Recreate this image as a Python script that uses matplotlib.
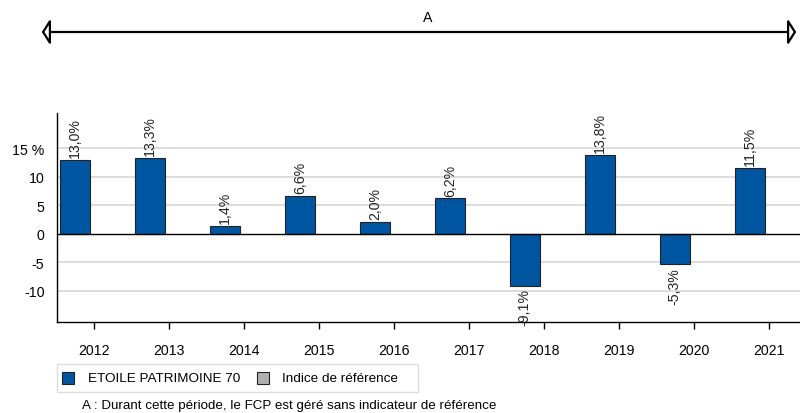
import matplotlib
matplotlib.use("Agg")
import matplotlib.pyplot as plt
from matplotlib.patches import FancyArrowPatch, Rectangle
import numpy as np

plt.rcParams['font.family'] = ['Liberation Sans', 'DejaVu Sans']

years = ["2012", "2013", "2014", "2015", "2016", "2017", "2018", "2019", "2020", "2021"]
fund = [13.0, 13.3, 1.4, 6.6, 2.0, 6.2, -9.1, 13.8, -5.3, 11.5]
fund_labels = ["13,0%", "13,3%", "1,4%", "6,6%", "2,0%", "6,2%", "-9,1%", "13,8%", "-5,3%", "11,5%"]
yticks = [-10, -5, 0, 5, 10, 15]
yticklabels = ["-10", "-5", "0", "5", "10", "15 %"]
series_names = ["ETOILE PATRIMOINE 70", "Indice de référence"]
annot_text = "A : Durant cette période, le FCP est géré sans indicateur de référence"

blue = "#0055A0"
grey = "#B0B0B0"
fs = 10.2
lfs = 9.7

fig = plt.figure(figsize=(8, 4.14), dpi=100)
ax = fig.add_axes([57/800, 1-323/414, 1-57/800, (323-114)/414])

x = np.arange(len(years))
ax.bar(x, fund, width=0.4, color=blue, edgecolor="#222222", linewidth=0.8, zorder=3)

for xi, v, lab in zip(x, fund, fund_labels):
    if v >= 0:
        ax.text(xi, v + 0.5, lab, rotation=90, ha="center", va="bottom", fontsize=fs, color="#222222")
    else:
        ax.text(xi, v - 0.5, lab, rotation=90, ha="center", va="top", fontsize=fs, color="#222222")

ax.set_xlim(-0.24, 9.67)
ax.set_ylim(-15.5, 21.2)
for yv in yticks:
    if yv != 0:
        ax.axhline(yv, color="#D6D6D6", linewidth=1.2, zorder=1)
ax.axhline(0, color="black", linewidth=1.0, zorder=4)

ax.set_yticks(yticks)
ax.set_yticklabels(yticklabels, fontsize=fs)
ax.tick_params(axis="y", length=0, pad=9)
ax.set_xticks(x + 0.25)
ax.set_xticklabels(years, fontsize=fs)
ax.tick_params(axis="x", length=5, direction="out", pad=10, width=1)

for s in ["top", "right"]:
    ax.spines[s].set_visible(False)
ax.spines["left"].set_linewidth(1.0)
ax.spines["bottom"].set_linewidth(1.0)

# top arrow
arr = FancyArrowPatch((39/800, 1-33/414), (799/800, 1-33/414), transform=fig.transFigure,
                      arrowstyle="<|-|>,head_length=0.35,head_width=0.55", mutation_scale=14,
                      facecolor="white", edgecolor="black", linewidth=1.6)
fig.patches.append(arr)
fig.text(428/800, 1-18/414, "A", ha="center", va="center", fontsize=fs)

# legend
fig.patches.append(Rectangle((57/800, 1-393/414), 361/800, 28/414, transform=fig.transFigure,
                             facecolor="white", edgecolor="#DDDDDD", linewidth=1))
fig.patches.append(Rectangle((62/800, 1-385/414), 12/800, 12/414, transform=fig.transFigure,
                             facecolor=blue, edgecolor="#222222", linewidth=0.8))
fig.text(88/800, 1-379/414, series_names[0], ha="left", va="center", fontsize=lfs)
fig.patches.append(Rectangle((257/800, 1-385/414), 12/800, 12/414, transform=fig.transFigure,
                             facecolor=grey, edgecolor="#222222", linewidth=0.8))
fig.text(282/800, 1-379/414, series_names[1], ha="left", va="center", fontsize=lfs)

fig.text(82/800, 1-406/414, annot_text, ha="left", va="center", fontsize=9.6)

fig.savefig("out.png", dpi=100)
